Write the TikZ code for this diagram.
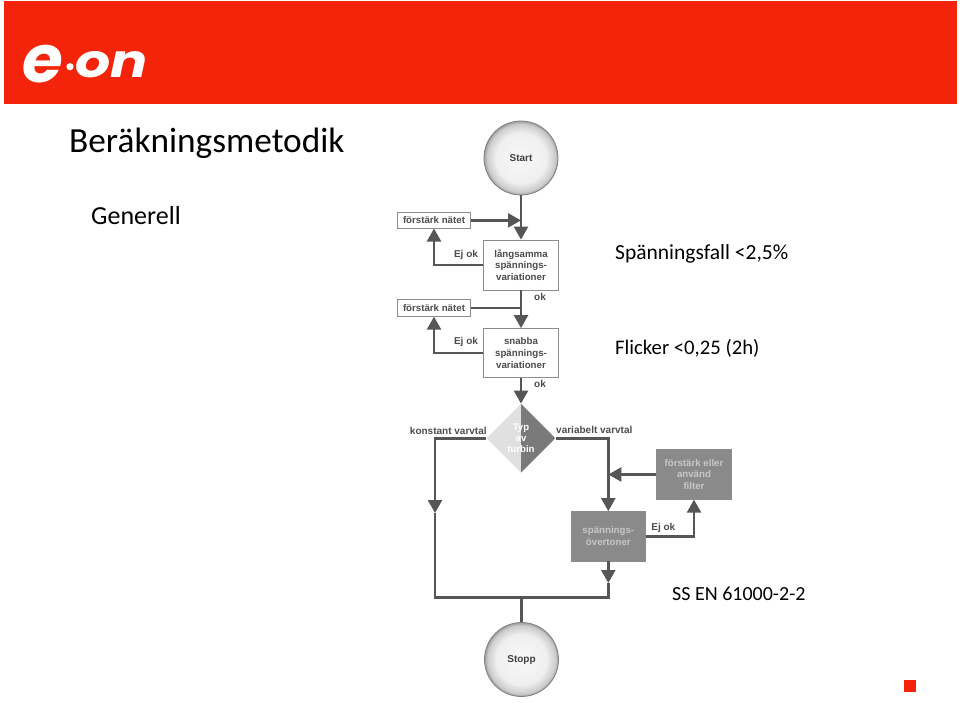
\documentclass[tikz,border=0pt]{standalone}
\usepackage{fontspec}
\setmainfont{Carlito}
\newfontfamily\chartfont{Liberation Sans}
\newfontfamily\logofont{Poppins}
\usetikzlibrary{arrows.meta, shapes.geometric}
\definecolor{eonred}{HTML}{F32409}
\definecolor{flowgray}{HTML}{565656}
\definecolor{boxgray}{HTML}{8A8A8A}
\pgfdeclareradialshading{discshade}{\pgfpoint{0bp}{0bp}}{color(0bp)=(black!3); color(17bp)=(black!6); color(23bp)=(black!20); color(25bp)=(black!38); color(50bp)=(black!38)}
\tikzset{
  flowline/.style={line width=2.4pt, draw=flowgray},
  flowarrow/.style={flowline, -{Triangle[length=13pt, width=14pt]}},
  lightbox/.style={draw=black!45, fill=white, line width=0.8pt, inner sep=0pt,
    align=center, font=\chartfont\bfseries\fontsize{9.7}{11.7}\selectfont, text=black!70},
  darkbox/.style={lightbox, fill=boxgray, text=black!22},
  disc/.style={circle, draw=black!50, line width=0.8pt, minimum size=74pt, inner sep=0pt,
    shading=discshade, text=black!75, text depth=0pt,
    font=\chartfont\bfseries\fontsize{10}{11}\selectfont},
  edgelabel/.style={font=\chartfont\bfseries\fontsize{10}{11}\selectfont, text=black!70},
  slidetext/.style={anchor=base west, inner sep=0pt, font=\fontsize{#1}{#1}\selectfont, text=black},
  logotext/.style={text=white, inner sep=0pt, font=\logofont\bfseries\itshape\fontsize{#1}{#1}\selectfont}
}
\begin{document}
\begin{tikzpicture}[x=1pt, y=-1pt]
  \useasboundingbox (0,0) rectangle (960,703);
  % sidhuvud
  \fill[eonred] (4,1) rectangle (957,104);
  \node[logotext=66, anchor=center] (logoe) at (43,64) {e};
  \fill[white] (70,66.7) circle (3.6);
  \node[logotext=46, anchor=center, xscale=1.2] (logoon) at (112,65) {on};
  \fill[eonred] (904,680) rectangle (916,692);
  % texter
  \node[slidetext=35.3] (title) at (69,153) {Beräkningsmetodik};
  \node[slidetext=26] (generell) at (91,225) {Generell};
  \node[slidetext=21.5] (fall) at (615,259) {Spänningsfall <2,5\%};
  \node[slidetext=20.7] (flicker) at (615,354) {Flicker <0,25 (2h)};
  \node[slidetext=20] (standard) at (672,600) {SS EN 61000-2-2};
  % noder
  \node[disc] (start) at (521,158) {Start};
  \node[disc] (stopp) at (521.5,659.5) {Stopp};
  \node[lightbox, minimum width=73.5pt, minimum height=15.5pt] (fn1) at (434,220.4) {förstärk nätet};
  \node[lightbox, minimum width=73.5pt, minimum height=16.5pt] (fn2) at (434,308) {förstärk nätet};
  \node[lightbox, minimum width=74.5pt, minimum height=50pt] (slow) at (521,265) {långsamma\\spännings-\\variationer};
  \node[lightbox, minimum width=74.5pt, minimum height=49pt] (fast) at (521,353) {snabba\\spännings-\\variationer};
  \node[diamond, aspect=1, minimum width=69pt, minimum height=69pt, inner sep=0pt,
    fill=black!12, align=center, text=white,
    font=\chartfont\bfseries\fontsize{9.6}{11.2}\selectfont,
    path picture={\fill[black!52] (path picture bounding box.north) rectangle (path picture bounding box.south east);}]
    (typ) at (521,438.3) {Typ\\av\\turbin};
  \node[darkbox, minimum width=74.5pt, minimum height=49.5pt] (filter) at (694,474.5) {förstärk eller\\använd\\filter};
  \node[darkbox, minimum width=74.5pt, minimum height=49.5pt] (over) at (608.3,536.3) {spännings-\\övertoner};
  % hjalppunkter
  \coordinate (join1) at (fn1 -| start);
  \coordinate (join2) at (fn2 -| start);
  \coordinate (tipleft) at (435,513);
  \coordinate (tipover) at (608.3,583);
  \coordinate (botleft) at (435,597.5);
  \coordinate (botmid) at (stopp.north |- botleft);
  \coordinate (join3) at (over.north |- filter);
  % pilar
  \draw[flowarrow] (start) -- (slow);
  \draw[flowarrow] (fn1) -- (join1);
  \draw[flowarrow] (slow.west) -| (fn1.south);
  \draw[flowarrow] (slow) -- (fast);
  \draw[flowline] (fn2) -- (join2);
  \draw[flowarrow] (fast.west) -| (fn2.south);
  \draw[flowarrow] (fast) -- (typ.north);
  \draw[flowarrow] (typ.west) -| (tipleft);
  \draw[flowline] (tipleft) |- (botmid);
  \draw[flowarrow] (typ.east) -| (over.north);
  \draw[flowarrow] (filter) -- (join3);
  \draw[flowarrow] (over.east) -| (filter.south);
  \draw[flowarrow] (over) -- (tipover);
  \draw[flowline] (tipover) |- (botmid);
  \draw[flowline] (botmid) -- (stopp);
  % etiketter
  \node[edgelabel] (ej1) at (466,254.5) {Ej ok};
  \node[edgelabel] (ej2) at (466,341.7) {Ej ok};
  \node[edgelabel] (ok1) at (540,297) {ok};
  \node[edgelabel] (ok2) at (540,384) {ok};
  \node[edgelabel] (konst) at (448.3,430.5) {konstant varvtal};
  \node[edgelabel] (vari) at (594.3,430) {variabelt varvtal};
  \node[edgelabel] (ej3) at (663.3,528.3) {Ej ok};
\end{tikzpicture}
\end{document}
